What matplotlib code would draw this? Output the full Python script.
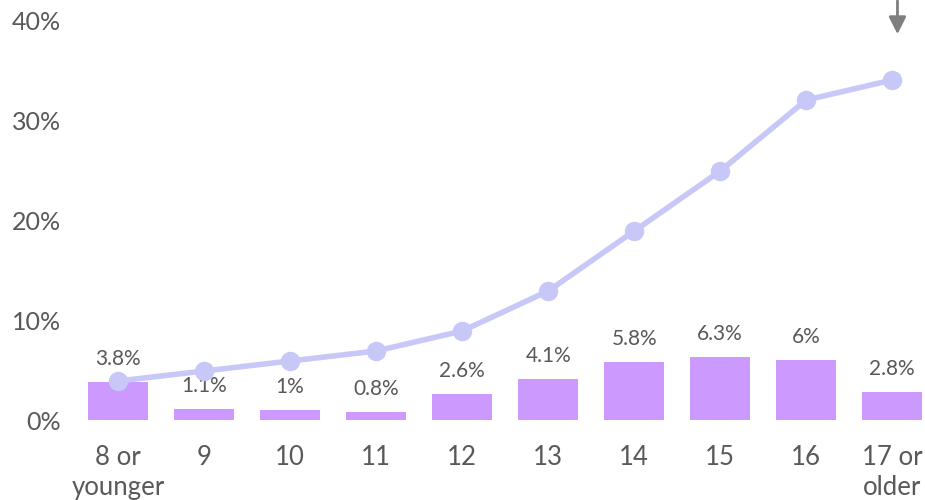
import matplotlib.pyplot as plt
import numpy as np

plt.rcParams['font.family'] = ['Lato', 'DejaVu Sans']

# data
ages = ['8 or\nyounger', '9', '10', '11', '12', '13', '14', '15', '16', '17 or\nolder']
share = [3.8, 1.1, 1.0, 0.8, 2.6, 4.1, 5.8, 6.3, 6.0, 2.8]
share_labels = ['3.8%', '1.1%', '1%', '0.8%', '2.6%', '4.1%', '5.8%', '6.3%', '6%', '2.8%']
cumulative = [3.9, 4.9, 5.9, 6.9, 8.9, 12.9, 18.9, 24.9, 32.0, 34.0]
yticks = [0, 10, 20, 30, 40]

bar_color = '#cc99ff'
line_color = '#c8c8f8'
text_color = '#595959'

fig = plt.figure(figsize=(9.25, 5), dpi=100)
ax = fig.add_axes([75 / 925, 80 / 500, 850 / 925, 420 / 500])

x = np.arange(len(ages))
ax.bar(x, share, width=0.7, color=bar_color, zorder=2)
for xi, v, lab in zip(x, share, share_labels):
    ax.text(xi, v + 1.3, lab, ha='center', va='bottom', fontsize=15, color=text_color)

ax.plot(x, cumulative, color=line_color, lw=4, marker='o', ms=13,
        markerfacecolor=line_color, markeredgecolor=line_color, zorder=3)

# arrow pointing at last point
ax.annotate('', xy=(x[-1] + 0.06, 38.3), xytext=(x[-1] + 0.06, 42.2),
            arrowprops=dict(arrowstyle='-|>', color='#7f7f7f', lw=2, mutation_scale=26),
            annotation_clip=False)

ax.set_xlim(-0.5, 9.38)
ax.set_ylim(0, 42)
ax.set_xticks(x)
ax.set_xticklabels(ages, fontsize=18.5, color=text_color, linespacing=1.25)
ax.set_yticks(yticks)
ax.set_yticklabels([f'{t}%' for t in yticks], fontsize=18, color=text_color)
ax.tick_params(length=0, axis='both')
ax.tick_params(axis='x', pad=18)
ax.tick_params(axis='y', pad=10)
for s in ax.spines.values():
    s.set_visible(False)

fig.savefig('out.png', dpi=100)
